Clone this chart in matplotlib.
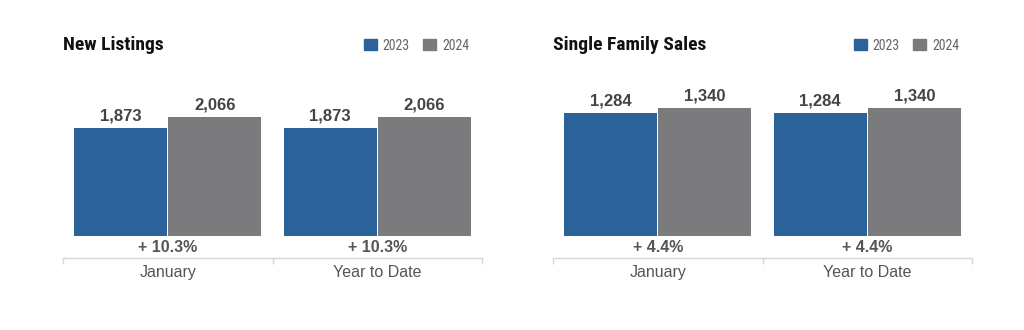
import matplotlib.pyplot as plt
import numpy as np
from matplotlib import font_manager
from matplotlib.patches import Patch
from matplotlib.transforms import blended_transform_factory

categories = ["January", "Year to Date"]
years = ["2023", "2024"]

listings_2023 = [1873, 1873]
listings_2024 = [2066, 2066]

sales_2023 = [1284, 1284]
sales_2024 = [1340, 1340]

BLUE = "#2b6299"
GRAY = "#7b7a7d"
SANS = ["Liberation Sans", "DejaVu Sans"]

# condensed face for title/legend if there is one, else plain sans a bit smaller
installed = {f.name for f in font_manager.fontManager.ttflist}
narrow = [n for n in ("Liberation Sans Narrow", "Roboto Condensed") if n in installed]
if narrow:
    TITLE_FONT, TITLE_SIZE, LEG_SIZE = [narrow[0]], 14, 10
else:
    TITLE_FONT, TITLE_SIZE, LEG_SIZE = SANS, 12, 9


def draw_panel(ax, title, prev, curr, ymax):
    x = np.arange(len(categories))
    w = 0.443
    off = 0.225
    b1 = ax.bar(x - off, prev, w, color=BLUE, zorder=2)
    b2 = ax.bar(x + off, curr, w, color=GRAY, zorder=2)

    for bars in (b1, b2):
        for r in bars:
            ax.annotate(f"{int(r.get_height()):,}",
                        (r.get_x() + r.get_width() / 2, r.get_height()),
                        xytext=(0, 3), textcoords="offset points",
                        ha="center", va="bottom", fontsize=12,
                        fontweight="bold", color="#444444", family=SANS)

    # percent change under each group
    trans = blended_transform_factory(ax.transData, ax.transAxes)
    for i in range(len(categories)):
        pct = (curr[i] - prev[i]) / prev[i] * 100
        ax.text(x[i], -0.072, f"+ {pct:.1f}%", transform=trans,
                ha="center", va="center", fontsize=11.5, fontweight="bold",
                color="#555555", family=SANS)

    ax.set_xlim(-0.5, len(categories) - 0.5)
    ax.set_ylim(0, ymax)
    ax.set_yticks([])
    for s in ("left", "right", "top"):
        ax.spines[s].set_visible(False)
    ax.spines["bottom"].set_position(("outward", 16))
    ax.spines["bottom"].set_color("#d6d6d6")
    ax.spines["bottom"].set_linewidth(1.0)

    ax.set_xticks(x)
    ax.set_xticklabels(categories, fontsize=11.5, color="#555555", family=SANS)
    ax.tick_params(axis="x", which="major", length=0, pad=5)
    ax.set_xticks(np.arange(len(categories) + 1) - 0.5, minor=True)
    ax.tick_params(axis="x", which="minor", length=4.5, width=1.0,
                   color="#d6d6d6")

    ax.text(0, 1.224, title, transform=ax.transAxes, ha="left", va="center",
            fontsize=TITLE_SIZE, fontweight="bold", color="#111111",
            family=TITLE_FONT)

    handles = [Patch(color=BLUE), Patch(color=GRAY)]
    ax.legend(handles, years, loc="center right", bbox_to_anchor=(0.969, 1.221),
              ncol=2, frameon=False, borderpad=0, borderaxespad=0,
              handlelength=0.95, handleheight=0.8, handletextpad=0.4,
              columnspacing=0.95, prop={"family": TITLE_FONT, "size": LEG_SIZE},
              labelcolor="#666666")


fig = plt.figure(figsize=(10.24, 3.30), dpi=100)
ax1 = fig.add_axes([63 / 1024, 94 / 330, 419 / 1024, 156 / 330])
ax2 = fig.add_axes([553 / 1024, 94 / 330, 419 / 1024, 156 / 330])

draw_panel(ax1, "New Listings", listings_2023, listings_2024, 2708)
draw_panel(ax2, "Single Family Sales", sales_2023, sales_2024, 1629)

fig.savefig("out.png", dpi=100)
